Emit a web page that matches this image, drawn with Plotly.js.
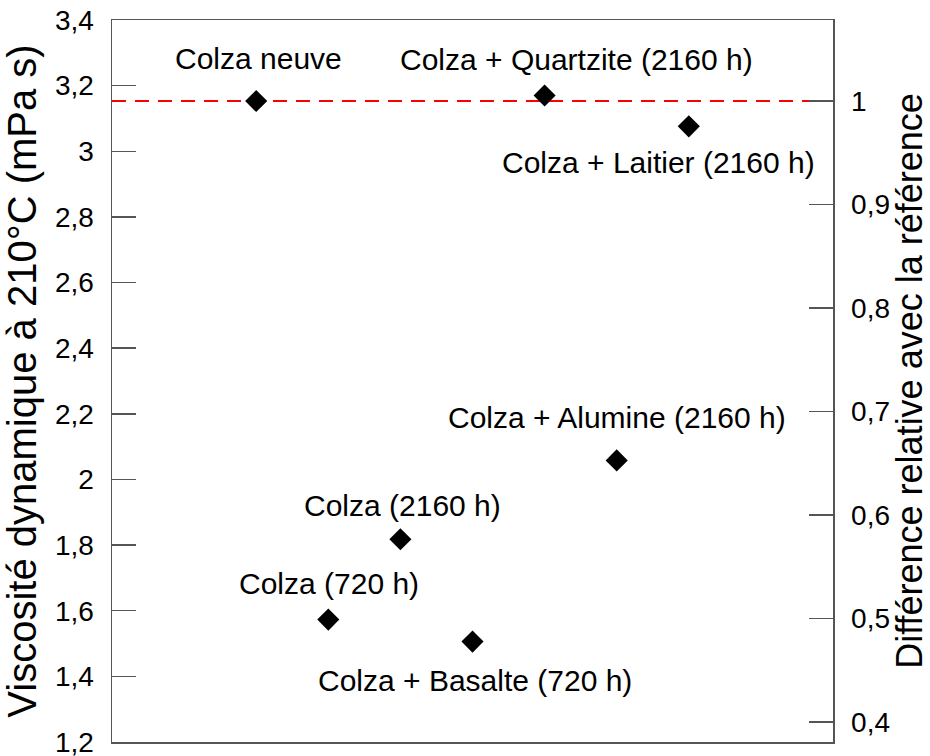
<!DOCTYPE html>
<html>
<head>
<meta charset="utf-8">
<script src="https://cdn.plot.ly/plotly-3.0.1.min.js"></script>
<style>html,body{margin:0;padding:0;background:#fff;}#chart{width:930px;height:756px;}</style>
</head>
<body>
<div id="chart"></div>
<script>
// ---- data ----
const categories = [
  "Colza neuve",
  "Colza (720 h)",
  "Colza (2160 h)",
  "Colza + Basalte (720 h)",
  "Colza + Quartzite (2160 h)",
  "Colza + Alumine (2160 h)",
  "Colza + Laitier (2160 h)"
];
const viscosity = [3.153, 1.573, 1.818, 1.506, 3.170, 2.058, 3.076];
const referenceViscosity = 3.153;
const leftRange = [1.2, 3.4];

// ---- label placement (px offsets, layout only) ----
const labelShiftX = [2, 1, 2, 2, 32, 0, -30];
const labelShiftY = [43, 36, 34, -39, 36, 43, -36];

const FONT = "Liberation Sans, Arial, Helvetica, sans-serif";
const AX = "#555555";

const trace = {
  x: categories,
  y: viscosity,
  type: "scatter",
  mode: "markers",
  marker: {symbol: "diamond", size: 17, color: "#000000", line: {width: 0}},
  hoverinfo: "x+y",
  showlegend: false
};
// invisible trace to activate right axis
const traceRight = {
  x: categories,
  y: viscosity.map(v => v / referenceViscosity),
  yaxis: "y2",
  type: "scatter",
  mode: "markers",
  marker: {opacity: 0},
  hoverinfo: "skip",
  showlegend: false
};

const annotations = categories.map((c, i) => ({
  x: c, y: viscosity[i], xref: "x", yref: "y",
  text: c, showarrow: false,
  xanchor: "center", yanchor: "middle",
  xshift: labelShiftX[i], yshift: labelShiftY[i],
  font: {family: FONT, size: 30, color: "#000"}
}));

const layout = {
  width: 930, height: 756,
  margin: {l: 112, r: 97, t: 20, b: 14},
  paper_bgcolor: "#fff", plot_bgcolor: "#fff",
  separators: ", ",
  font: {family: FONT, color: "#000"},
  showlegend: false,
  xaxis: {
    type: "category",
    range: [-2, 8],
    showticklabels: false, ticks: "",
    showgrid: false, zeroline: false,
    showline: true, linecolor: AX, linewidth: 1.5, mirror: true,
    fixedrange: true
  },
  yaxis: {
    range: leftRange, tick0: 1.2, dtick: 0.2,
    ticks: "inside", ticklen: 24, tickwidth: 1.5, tickcolor: AX,
    showline: true, linecolor: AX, linewidth: 1.5,
    showgrid: false, zeroline: false,
    tickfont: {family: FONT, size: 28, color: "#000"},
    ticklabelstandoff: 11,
    ticklabeloverflow: "allow",
    title: {text: "Viscosité dynamique à 210°C (mPa s)", font: {family: FONT, size: 40, color: "#000"}, standoff: 6}
  },
  yaxis2: {
    overlaying: "y", side: "right",
    range: [leftRange[0] / referenceViscosity, leftRange[1] / referenceViscosity],
    tick0: 0.4, dtick: 0.1,
    ticks: "inside", ticklen: 24, tickwidth: 1.5, tickcolor: AX,
    showline: true, linecolor: AX, linewidth: 1.5,
    showgrid: false, zeroline: false,
    tickfont: {family: FONT, size: 28, color: "#000"},
    ticklabelstandoff: 11,
    ticklabeloverflow: "allow",
    title: {text: "Différence relative avec la référence", font: {family: FONT, size: 36, color: "#000"}, standoff: 8}
  },
  shapes: [{
    type: "line", xref: "paper", x0: 0, x1: 1, yref: "y", y0: referenceViscosity, y1: referenceViscosity,
    line: {color: "#ff0000", width: 2, dash: "14px,9px"}, layer: "below"
  }],
  annotations: annotations
};

Plotly.newPlot("chart", [traceRight, trace], layout, {displayModeBar: false, staticPlot: true});
</script>
</body>
</html>
